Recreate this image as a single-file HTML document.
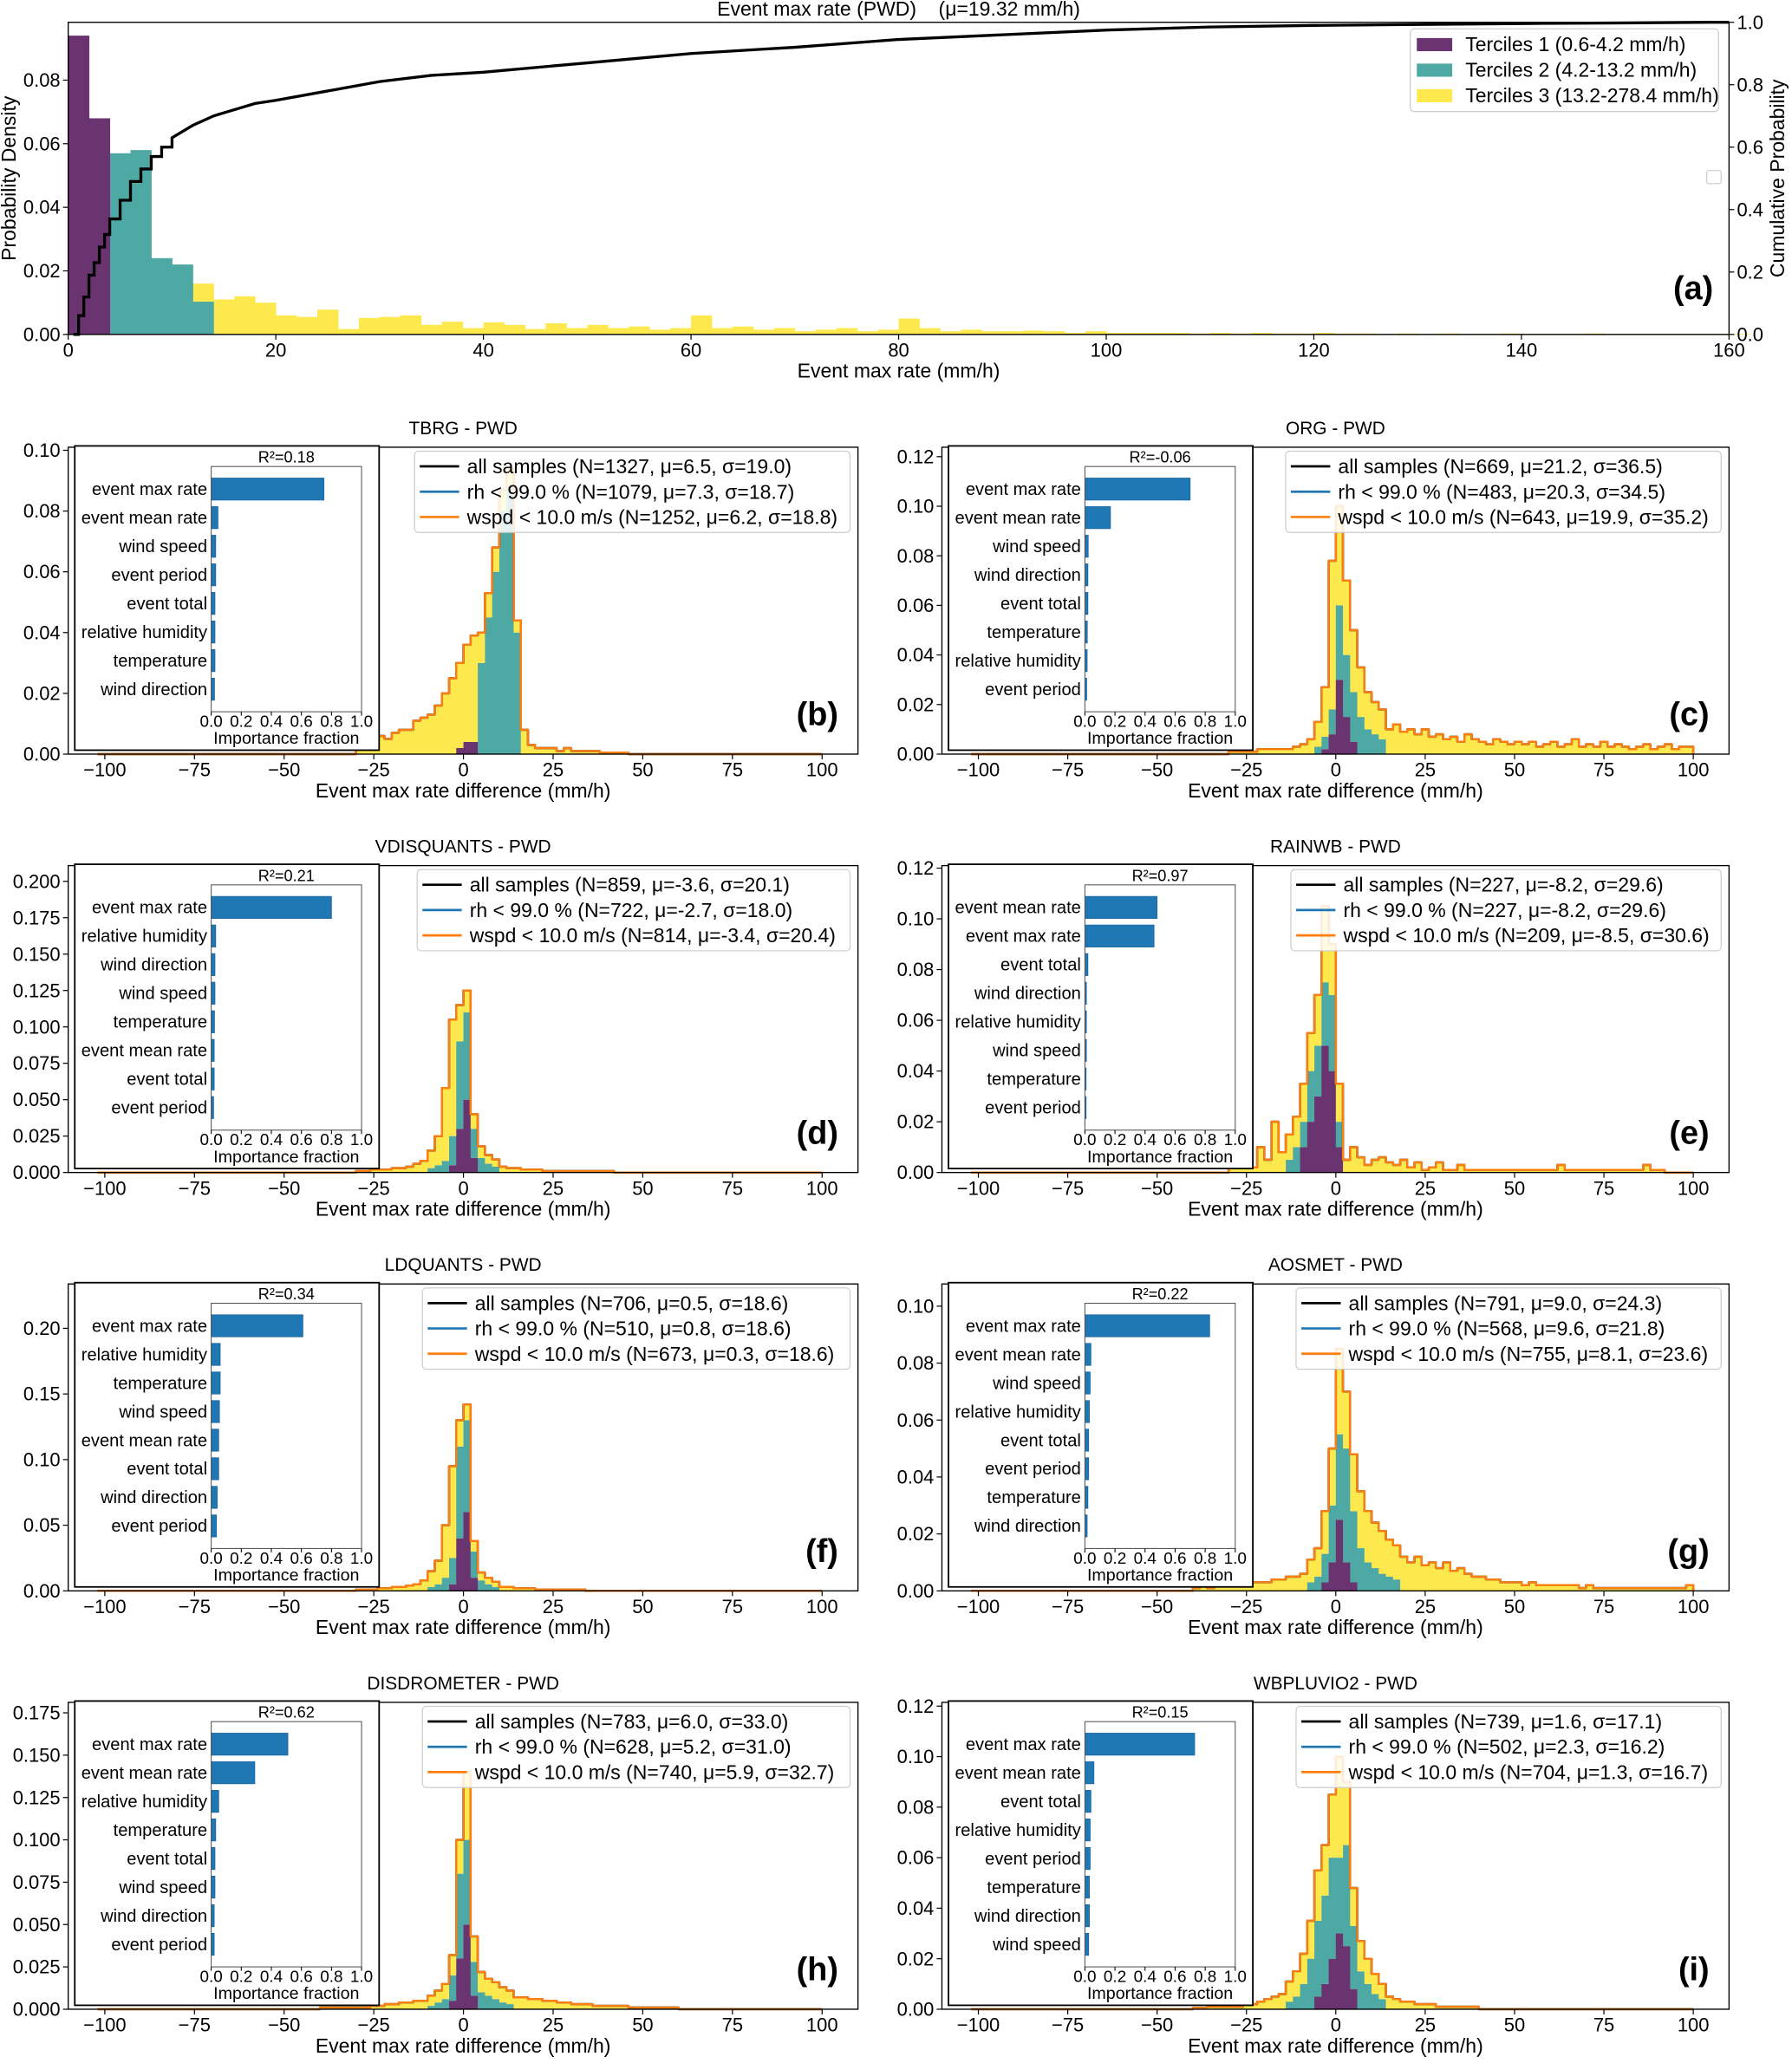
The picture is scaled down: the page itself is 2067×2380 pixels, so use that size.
<!DOCTYPE html>
<html><head><meta charset="utf-8"><style>
html,body{margin:0;padding:0;background:#fff}
svg{display:block}
text{font-family:"Liberation Sans","DejaVu Sans",sans-serif;fill:#000}
</style></head><body>
<svg id="fig" width="2067" height="2380" viewBox="0 0 1366 1573" preserveAspectRatio="none" xmlns="http://www.w3.org/2000/svg"></svg>
<script>
// ---------- Panel (a) data ----------
const aPurple=[0.094,0.068];               // bins from 0, width 2
const aTeal=[0.057,0.058,0.024,0.022,0.0103]; // bins from 4
const aYellow=[0.016,0.011,0.012,0.01,0.006,0.0055,0.0078,0.0017,0.0052,0.0055,0.006,0.003,0.004,0.002,0.0038,0.003,0.0017,0.0035,0.002,0.003,
0.002,0.0025,0.0015,0.002,0.006,0.002,0.0025,0.0015,0.002,0.001,0.0015,0.002,0.001,0.0015,0.005,0.002,0.001,0.0015,0.001,0.001,0.0012,0.001,0.0005,0.001,0.0005,0.0005,0.0005,0.0005,0.0003,0.0005,0.0003,0.0005,0.0003,0.0003,0.0005,
0.0003,0.0003,0.0002,0.0003,0.0002,0.0003,0.0002,0.0002,0.0003,0.0002,0.0002,0.0002,0.0003,0.0002,0.0002,0.0002,0.0002,0.0002,0.0002,0.0002]; // bins from 12
const cdfX=[0.5,1,1.5,2,2.5,3,3.5,4,5,6,7,8,9,10,12,14,16,18,20,25,30,35,40,50,60,70,80,90,100,110,120,130,140,150,158];
const cdfY=[0,0.06,0.12,0.19,0.23,0.28,0.32,0.37,0.43,0.49,0.53,0.57,0.6,0.63,0.67,0.7,0.72,0.74,0.75,0.78,0.81,0.83,0.84,0.87,0.9,0.92,0.945,0.96,0.975,0.985,0.99,0.993,0.996,0.998,1.0];
const aYTicks=[0,0.02,0.04,0.06,0.08];
const aY2Ticks=[0,0.2,0.4,0.6,0.8,1.0];
const aXTicks=[0,20,40,60,80,100,120,140,160];

// ---------- Difference panels data (bins width 2, given start) ----------
const bPurple=[0.002,0.004,0.004], bPurpleStart=-2;
const bTeal=[0.03,0.045,0.06,0.08,0.088,0.04], bTealStart=4;
const bYellow=[0.002,0.003,0.004,0.006,0.005,0.007,0.008,0.008,0.011,0.012,0.013,0.016,0.02,0.025,0.028,0.032,0.035,0.01,0.008,0.008,0.007,0.006,0.004,0.008,0.003,0.002,0.002,0.002,0.001,0.002,0.001,0.001,0.001,0.001,0.0005,0.0005,0.0005,0.0005], bYellowStart=-30;
const bFeat=["event max rate","event mean rate","wind speed","event period","event total","relative humidity","temperature","wind direction"];
const bImp=[0.75,0.045,0.03,0.03,0.025,0.025,0.025,0.022];

const cPurple=[0.002,0.008,0.03,0.015,0.005], cPurpleStart=-4;
const cTeal=[0.003,0.005,0.01,0.03,0.025,0.02,0.015,0.01,0.008,0.006], cTealStart=-6;
const cYellow=[0.001,0.001,0.001,0.001,0.002,0.002,0.002,0.002,0.002,0.003,0.004,0.006,0.01,0.02,0.06,0.04,0.03,0.025,0.02,0.015,0.013,0.012,0.01,0.012,0.009,0.01,0.008,0.01,0.007,0.008,0.006,0.007,0.005,0.008,0.006,0.005,0.004,0.006,0.005,0.004,0.005,0.004,0.005,0.003,0.004,0.005,0.003,0.004,0.006,0.003,0.004,0.003,0.005,0.003,0.004,0.003,0.002,0.003,0.004,0.002,0.003,0.004,0.002,0.003,0.003], cYellowStart=-30;
const cFeat=["event max rate","event mean rate","wind speed","wind direction","event total","temperature","relative humidity","event period"];
const cImp=[0.7,0.17,0.022,0.02,0.02,0.016,0.015,0.012];

const dPurple=[0.005,0.03,0.05,0.01], dPurpleStart=-4;
const dTeal=[0.003,0.005,0.008,0.02,0.06,0.06,0.02,0.01,0.006,0.004], dTealStart=-10;
const dYellow=[0.001,0.001,0.002,0.002,0.002,0.003,0.003,0.004,0.006,0.008,0.012,0.02,0.05,0.08,0.025,0.015,0.01,0.008,0.006,0.005,0.004,0.003,0.003,0.002,0.002,0.002,0.001,0.001,0.001,0.001,0.001,0.001,0.001,0.001,0.001,0.001], dYellowStart=-30;
const dFeat=["event max rate","relative humidity","wind direction","wind speed","temperature","event mean rate","event total","event period"];
const dImp=[0.8,0.03,0.025,0.025,0.022,0.02,0.02,0.016];

const ePurple=[0.01,0.02,0.03,0.05,0.04,0.01], ePurpleStart=-10;
const eTeal=[0.005,0.01,0.01,0.02,0.02,0.025,0.03,0.01], eTealStart=-14;
const eYellow=[0.002,0.005,0.018,0.002,0.01,0.005,0.02,0.008,0.01,0.012,0.015,0.015,0.02,0.03,0.02,0.015,0.005,0.01,0.006,0.003,0.005,0.006,0.004,0.003,0.005,0.002,0.004,0.001,0.002,0.004,0.001,0.001,0.003,0.001,0.001,0.001,0.001,0.001,0.001,0.001,0.001,0.001,0.001,0.001,0.001,0.001,0.003,0.001,0.001,0.001,0.001,0.001,0.001,0.001,0.001,0.001,0.001,0.001,0.003,0.001,0.001], eYellowStart=-30;
const eFeat=["event mean rate","event max rate","event total","wind direction","relative humidity","wind speed","temperature","event period"];
const eImp=[0.48,0.46,0.02,0.01,0.01,0.01,0.008,0.008];

const fPurple=[0.005,0.04,0.06,0.01], fPurpleStart=-4;
const fTeal=[0.003,0.005,0.01,0.02,0.07,0.07,0.02,0.008,0.005,0.003], fTealStart=-10;
const fYellow=[0.001,0.001,0.001,0.002,0.002,0.003,0.003,0.004,0.005,0.008,0.012,0.018,0.04,0.07,0.02,0.012,0.008,0.006,0.005,0.004,0.003,0.003,0.002,0.002,0.002,0.001,0.001,0.001,0.001,0.001,0.001,0.001], fYellowStart=-30;
const fFeat=["event max rate","relative humidity","temperature","wind speed","event mean rate","event total","wind direction","event period"];
const fImp=[0.61,0.06,0.06,0.055,0.05,0.05,0.04,0.035];

const gPurple=[0.003,0.01,0.025,0.01,0.003], gPurpleStart=-4;
const gTeal=[0.003,0.005,0.01,0.02,0.03,0.04,0.025,0.015,0.01,0.008,0.006,0.005,0.004], gTealStart=-8;
const gYellow=[0.001,0.002,0.001,0.002,0.002,0.002,0.002,0.003,0.003,0.003,0.003,0.004,0.004,0.005,0.005,0.006,0.008,0.01,0.015,0.02,0.03,0.02,0.02,0.02,0.018,0.016,0.015,0.013,0.012,0.012,0.01,0.012,0.009,0.01,0.008,0.01,0.007,0.008,0.006,0.005,0.005,0.004,0.004,0.003,0.003,0.003,0.002,0.003,0.002,0.002,0.002,0.002,0.002,0.002,0.001,0.002,0.001,0.001,0.001,0.001,0.001,0.001,0.001,0.001,0.001,0.001,0.001,0.001,0.001,0.002], gYellowStart=-40;
const gFeat=["event max rate","event mean rate","wind speed","relative humidity","event total","event period","temperature","wind direction"];
const gImp=[0.83,0.04,0.035,0.03,0.025,0.025,0.02,0.015];

const hPurple=[0.005,0.03,0.05,0.008], hPurpleStart=-4;
const hTeal=[0.002,0.004,0.006,0.015,0.05,0.05,0.02,0.01,0.008,0.006,0.004,0.003], hTealStart=-10;
const hYellow=[0.001,0.001,0.001,0.001,0.001,0.001,0.001,0.002,0.002,0.003,0.003,0.004,0.004,0.005,0.005,0.006,0.007,0.009,0.012,0.02,0.04,0.015,0.012,0.01,0.01,0.009,0.008,0.007,0.007,0.006,0.006,0.005,0.005,0.004,0.004,0.003,0.003,0.003,0.002,0.002,0.002,0.002,0.002,0.001,0.001,0.001,0.001,0.001,0.001,0.001], hYellowStart=-40;
const hFeat=["event max rate","event mean rate","relative humidity","temperature","event total","wind speed","wind direction","event period"];
const hImp=[0.51,0.29,0.05,0.03,0.025,0.025,0.02,0.02];

const iPurple=[0.005,0.01,0.02,0.03,0.025,0.008], iPurpleStart=-6;
const iTeal=[0.003,0.005,0.01,0.02,0.03,0.035,0.04,0.03,0.04,0.025,0.015,0.01,0.006,0.004], iTealStart=-14;
const iYellow=[0.0005,0.0005,0.001,0.001,0.001,0.001,0.001,0.002,0.002,0.003,0.004,0.005,0.006,0.008,0.01,0.012,0.015,0.02,0.02,0.025,0.04,0.025,0.015,0.012,0.01,0.008,0.006,0.005,0.004,0.003,0.003,0.002,0.002,0.002,0.001,0.001,0.001,0.001,0.001,0.001], iYellowStart=-40;
const iFeat=["event max rate","event mean rate","event total","relative humidity","event period","temperature","wind direction","wind speed"];
const iImp=[0.73,0.06,0.04,0.035,0.035,0.03,0.03,0.025];

const NS="http://www.w3.org/2000/svg";
const svg=document.getElementById('fig');
function el(tag,attrs,parent){const e=document.createElementNS(NS,tag);for(const k in attrs)e.setAttribute(k,attrs[k]);(parent||svg).appendChild(e);return e;}
function txt(s,x,y,size,anchor,parent,extra){const t=el('text',Object.assign({x:x,y:y,'font-size':size,'text-anchor':anchor||'start'},extra||{}),parent);t.textContent=s;return t;}

const PURPLE="#69346f",TEAL="#4ea8a3",YELLOW="#fde84d";
const TICK=14.5, LAB=15.2, LEG=15.2;

// ---------- Panel (a) ----------
(function(){
  const g=el('g',{});
  
  
  const L=52,R=1318,T=17,B=255;
  const xs=v=>L+v/160*(R-L);
  const ys=v=>B-v/0.0982*(B-T);
  const y2=v=>B-v*(B-T);
  function bars(arr,start,color,name){
    arr.forEach((v,i)=>{const x=xs(start+2*i),w=xs(start+2*i+2)-x;
      const r=el('rect',{x:x,y:ys(v),width:w+0.3,height:B-ys(v),fill:color},g);
      
      });
  }
  bars(aYellow,12,YELLOW,'hist-bar-tercile3');
  bars(aTeal,4,TEAL,'hist-bar-tercile2');
  bars(aPurple,0,PURPLE,'hist-bar-tercile1');
  let d='M'+xs(cdfX[0])+','+y2(0);
  for(let i=1;i<cdfX.length;i++){
    if(cdfX[i]<=10) d+=' H'+xs(cdfX[i])+' V'+y2(cdfY[i]);
    else d+=' L'+xs(cdfX[i])+','+y2(cdfY[i]);
  }
  d+=' H'+xs(160);
  const cl=el('path',{d:d,fill:'none',stroke:'#000','stroke-width':2.2},g);
  
  
  el('rect',{x:L,y:T,width:R-L,height:B-T,fill:'none',stroke:'#000','stroke-width':0.9},g);
  aYTicks.forEach(v=>{el('line',{x1:L-4,x2:L,y1:ys(v),y2:ys(v),stroke:'#000','stroke-width':0.8},g);
    const t=txt(v.toFixed(2),L-6,ys(v)+5,TICK,'end',g);
    
    });
  aY2Ticks.forEach(v=>{el('line',{x1:R,x2:R+4,y1:y2(v),y2:y2(v),stroke:'#000','stroke-width':0.8},g);
    const t=txt(v.toFixed(1),R+6,y2(v)+5,TICK,'start',g);
    
    });
  aXTicks.forEach(v=>{el('line',{x1:xs(v),x2:xs(v),y1:B,y2:B+4,stroke:'#000','stroke-width':0.8},g);
    const t=txt(String(v),xs(v),B+17,TICK,'middle',g);
    
    });
  const ti=txt('Event max rate (PWD)    (μ=19.32 mm/h)',685,12,LAB,'middle',g,{style:'white-space:pre'});
  
  
  const xl=txt('Event max rate (mm/h)',685,288,LAB,'middle',g);
  
  
  const yl=txt('Probability Density',12,136,LAB,'middle',g,{transform:'rotate(-90 12 136)'});
  
  
  const y2l=txt('Cumulative Probability',1360,136,LAB,'middle',g,{transform:'rotate(-90 1360 136)'});
  
  
  const lg=el('g',{},g);
  
  
  el('rect',{x:1075,y:22,width:235,height:63,rx:3,fill:'#fff',stroke:'#ccc','stroke-width':0.8},lg);
  [['Terciles 1 (0.6-4.2 mm/h)',PURPLE],['Terciles 2 (4.2-13.2 mm/h)',TEAL],['Terciles 3 (13.2-278.4 mm/h)',YELLOW]].forEach((e,i)=>{
    const y=34+i*19.5;
    el('rect',{x:1080,y:y-5,width:27,height:10,fill:e[1]},lg);
    const t=txt(e[0],1117,y+5,LEG,'start',lg);
    
    });
  el('rect',{x:1301,y:130,width:11,height:10,rx:1.5,fill:'#fff',stroke:'#ccc','stroke-width':0.8},g);
  const tag=txt('(a)',1306,228,25,'end',g,{'font-weight':'bold'});
  
  
})();

// ---------- difference panels ----------
const X0=[52,718],X1=[654,1318],TOPS=[341,660,979,1298],H=234;
const panels=[
 {id:'b',col:0,row:0,title:'TBRG - PWD',ymax:0.101,yt:[0,0.02,0.04,0.06,0.08,0.10],dec:2,P:bPurple,pS:bPurpleStart,T:bTeal,tS:bTealStart,Y:bYellow,yS:bYellowStart,F:bFeat,I:bImp,r2:'R²=0.18',legX:316,
  leg:['all samples (N=1327, μ=6.5, σ=19.0)','rh < 99.0 % (N=1079, μ=7.3, σ=18.7)','wspd < 10.0 m/s (N=1252, μ=6.2, σ=18.8)']},
 {id:'c',col:1,row:0,title:'ORG - PWD',ymax:0.1238,yt:[0,0.02,0.04,0.06,0.08,0.10,0.12],dec:2,P:cPurple,pS:cPurpleStart,T:cTeal,tS:cTealStart,Y:cYellow,yS:cYellowStart,F:cFeat,I:cImp,r2:'R²=-0.06',legX:980,
  leg:['all samples (N=669, μ=21.2, σ=36.5)','rh < 99.0 % (N=483, μ=20.3, σ=34.5)','wspd < 10.0 m/s (N=643, μ=19.9, σ=35.2)']},
 {id:'d',col:0,row:1,title:'VDISQUANTS - PWD',ymax:0.2108,yt:[0,0.025,0.05,0.075,0.1,0.125,0.15,0.175,0.2],dec:3,P:dPurple,pS:dPurpleStart,T:dTeal,tS:dTealStart,Y:dYellow,yS:dYellowStart,F:dFeat,I:dImp,r2:'R²=0.21',legX:318,
  leg:['all samples (N=859, μ=-3.6, σ=20.1)','rh < 99.0 % (N=722, μ=-2.7, σ=18.0)','wspd < 10.0 m/s (N=814, μ=-3.4, σ=20.4)']},
 {id:'e',col:1,row:1,title:'RAINWB - PWD',ymax:0.121,yt:[0,0.02,0.04,0.06,0.08,0.10,0.12],dec:2,P:ePurple,pS:ePurpleStart,T:eTeal,tS:eTealStart,Y:eYellow,yS:eYellowStart,F:eFeat,I:eImp,r2:'R²=0.97',legX:984,
  leg:['all samples (N=227, μ=-8.2, σ=29.6)','rh < 99.0 % (N=227, μ=-8.2, σ=29.6)','wspd < 10.0 m/s (N=209, μ=-8.5, σ=30.6)']},
 {id:'f',col:0,row:2,title:'LDQUANTS - PWD',ymax:0.2338,yt:[0,0.05,0.10,0.15,0.20],dec:2,P:fPurple,pS:fPurpleStart,T:fTeal,tS:fTealStart,Y:fYellow,yS:fYellowStart,F:fFeat,I:fImp,r2:'R²=0.34',legX:322,
  leg:['all samples (N=706, μ=0.5, σ=18.6)','rh < 99.0 % (N=510, μ=0.8, σ=18.6)','wspd < 10.0 m/s (N=673, μ=0.3, σ=18.6)']},
 {id:'g',col:1,row:2,title:'AOSMET - PWD',ymax:0.1078,yt:[0,0.02,0.04,0.06,0.08,0.10],dec:2,P:gPurple,pS:gPurpleStart,T:gTeal,tS:gTealStart,Y:gYellow,yS:gYellowStart,F:gFeat,I:gImp,r2:'R²=0.22',legX:988,
  leg:['all samples (N=791, μ=9.0, σ=24.3)','rh < 99.0 % (N=568, μ=9.6, σ=21.8)','wspd < 10.0 m/s (N=755, μ=8.1, σ=23.6)']},
 {id:'h',col:0,row:3,title:'DISDROMETER - PWD',ymax:0.1812,yt:[0,0.025,0.05,0.075,0.1,0.125,0.15,0.175],dec:3,P:hPurple,pS:hPurpleStart,T:hTeal,tS:hTealStart,Y:hYellow,yS:hYellowStart,F:hFeat,I:hImp,r2:'R²=0.62',legX:322,
  leg:['all samples (N=783, μ=6.0, σ=33.0)','rh < 99.0 % (N=628, μ=5.2, σ=31.0)','wspd < 10.0 m/s (N=740, μ=5.9, σ=32.7)']},
 {id:'i',col:1,row:3,title:'WBPLUVIO2 - PWD',ymax:0.1215,yt:[0,0.02,0.04,0.06,0.08,0.10,0.12],dec:2,P:iPurple,pS:iPurpleStart,T:iTeal,tS:iTealStart,Y:iYellow,yS:iYellowStart,F:iFeat,I:iImp,r2:'R²=0.15',legX:988,
  leg:['all samples (N=739, μ=1.6, σ=17.1)','rh < 99.0 % (N=502, μ=2.3, σ=16.2)','wspd < 10.0 m/s (N=704, μ=1.3, σ=16.7)']}
];
const XT=[-100,-75,-50,-25,0,25,50,75,100];
const BIN0=-40,NB=70;

panels.forEach(p=>{
  const g=el('g',{});
  
  
  const L=X0[p.col],R=X1[p.col],T=TOPS[p.row],B=T+H;
  const xs=v=>L+(v+110.2)/220.2*(R-L);
  const ys=v=>B-v/p.ymax*H;
  const grid=(arr,start)=>{const o=new Array(NB).fill(0);arr.forEach((v,i)=>{const k=(start-BIN0)/2+i;if(k>=0&&k<NB)o[k]+=v;});return o;};
  const pg=grid(p.P,p.pS),tg=grid(p.T,p.tS),yg=grid(p.Y,p.yS);
  for(let k=0;k<NB;k++){
    const x=xs(BIN0+2*k),w=xs(BIN0+2*k+2)-x;
    let base=0;
    [[pg[k],PURPLE,'hist-bar-tercile1'],[tg[k],TEAL,'hist-bar-tercile2'],[yg[k],YELLOW,'hist-bar-tercile3']].forEach(s=>{
      if(s[0]>0){const r=el('rect',{x:x,y:ys(base+s[0]),width:w+0.3,height:ys(base)-ys(base+s[0]),fill:s[1]},g);
        
        }
      base+=s[0];});
  }
  let d='M'+xs(-102)+','+ys(0)+' H'+xs(BIN0);
  for(let k=0;k<NB;k++){const tot=pg[k]+tg[k]+yg[k];d+=' V'+ys(tot)+' H'+xs(BIN0+2*k+2);}
  d+=' V'+ys(0)+' H'+xs(100);
  [['#000','line-all-samples'],['#1f77b4','line-rh'],['#ff7f0e','line-wspd']].forEach(c=>{
    const pa=el('path',{d:d,fill:'none',stroke:c[0],'stroke-width':1.6,'stroke-linejoin':'round'},g);
    
    });
  el('rect',{x:L,y:T,width:R-L,height:H,fill:'none',stroke:'#000','stroke-width':0.9},g);
  p.yt.forEach(v=>{el('line',{x1:L-4,x2:L,y1:ys(v),y2:ys(v),stroke:'#000','stroke-width':0.8},g);
    const t=txt(v.toFixed(p.dec),L-6,ys(v)+5,TICK,'end',g);
    
    });
  XT.forEach(v=>{el('line',{x1:xs(v),x2:xs(v),y1:B,y2:B+4,stroke:'#000','stroke-width':0.8},g);
    const t=txt(v<0?'−'+Math.abs(v):String(v),xs(v),B+17,TICK,'middle',g);
    
    });
  const ti=txt(p.title,(L+R)/2,T-10,13.8,'middle',g);
  
  
  const xl=txt('Event max rate difference (mm/h)',(L+R)/2,B+33,LAB,'middle',g);
  
  
  // inset
  const ig=el('g',{},g);
  
  
  el('rect',{x:L+5,y:T-1,width:232,height:232,fill:'#fff',stroke:'#000','stroke-width':1.2},ig);
  const IL=L+109,IW=114.6,IT=T+14.7,IH=187;
  p.I.forEach((v,i)=>{const cy=IT+17.2+i*21.8;
    const r=el('rect',{x:IL,y:cy-8.4,width:v*IW,height:16.8,fill:'#1f77b4',stroke:'#1a63a0','stroke-width':0.5},ig);
    
    
    const t=txt(p.F[i],IL-3,cy+4.5,13.3,'end',ig);
    
    });
  el('rect',{x:IL,y:IT,width:IW,height:IH,fill:'none',stroke:'#555','stroke-width':0.7},ig);
  [0,0.2,0.4,0.6,0.8,1.0].forEach(v=>{const x=IL+v*IW;
    el('line',{x1:x,x2:x,y1:IT+IH,y2:IT+IH+3,stroke:'#000','stroke-width':0.7},ig);
    txt(v.toFixed(1),x,IT+IH+11.5,12.5,'middle',ig);});
  txt('Importance fraction',IL+IW/2,IT+IH+24.5,13,'middle',ig);
  const r2=txt(p.r2,IL+IW/2,IT-3,12,'middle',ig);
  
  
  // legend
  const lg=el('g',{},g);
  
  
  el('rect',{x:p.legX,y:T+3,width:R-6-p.legX,height:62,rx:3,fill:'#fff','fill-opacity':0.85,stroke:'#ccc','stroke-width':0.8},lg);
  ['#000','#1f77b4','#ff7f0e'].forEach((c,i)=>{const y=T+14.6+i*19.3;
    el('line',{x1:p.legX+4,x2:p.legX+34,y1:y,y2:y,stroke:c,'stroke-width':1.8},lg);
    const t=txt(p.leg[i],p.legX+40,y+5.3,LEG,'start',lg);
    
    });
  const tag=txt('('+p.id+')',R-15,B-22,25,'end',g,{'font-weight':'bold'});
  
  
});
</script>
</body></html>
